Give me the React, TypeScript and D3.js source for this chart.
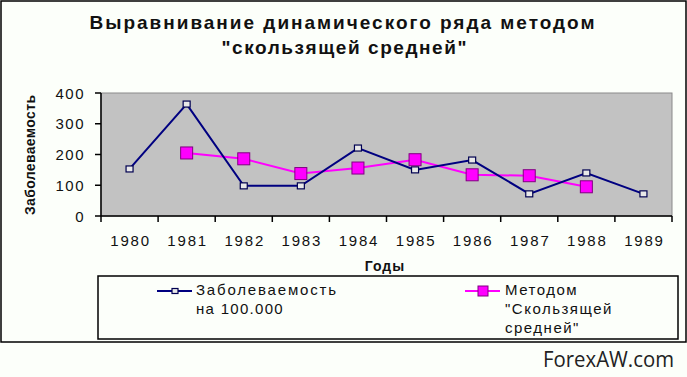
import React from "react";
import * as d3 from "d3";

const years = ["1980", "1981", "1982", "1983", "1984", "1985", "1986", "1987", "1988", "1989"];
const incidence = [153, 364, 98, 98, 221, 150, 182, 72, 140, 72];
const movingAvgYears = ["1981", "1982", "1983", "1984", "1985", "1986", "1987", "1988"];
const movingAvg = [205, 186, 138, 156, 183, 134, 131, 95];
const yTicks = [0, 100, 200, 300, 400];

const W = 687;
const H = 377;
const plot = { left: 101, right: 672, top: 93, bottom: 216 };
const font = "'Liberation Sans', Arial, sans-serif";

export default function App() {
  const x = d3.scaleBand<string>().domain(years).range([plot.left, plot.right]).paddingInner(0).paddingOuter(0);
  const y = d3.scaleLinear().domain([0, 400]).range([plot.bottom, plot.top]);
  const cx = (yr: string) => (x(yr) as number) + x.bandwidth() / 2;

  const line = d3.line<[number, number]>().x((d) => d[0]).y((d) => d[1]);
  const bluePts: [number, number][] = years.map((yr, i) => [cx(yr), y(incidence[i])]);
  const magPts: [number, number][] = movingAvgYears.map((yr, i) => [cx(yr), y(movingAvg[i])]);

  const tickXs = years.map((yr) => x(yr) as number).concat([plot.right]);

  return (
    <svg width={W} height={H} style={{ position: "absolute", left: 0, top: 0, display: "block" }}>
      <rect x={0} y={0} width={W} height={H} fill="#fcfffa" />
      <rect x={1} y={1} width={685} height={341} fill="none" stroke="#000" strokeWidth={1.5} />

      {/* Title */}
      <text x={342} y={29} textAnchor="middle" fontFamily={font} fontWeight="bold" fontSize={19}
        textLength={505} lengthAdjust="spacing" fill="#111">
        Выравнивание динамического ряда методом
      </text>
      <text x={344} y={54} textAnchor="middle" fontFamily={font} fontWeight="bold" fontSize={19}
        textLength={245} lengthAdjust="spacing" fill="#111">
        "скользящей средней"
      </text>

      {/* plot area */}
      <rect x={plot.left} y={plot.top} width={plot.right - plot.left} height={plot.bottom - plot.top}
        fill="#c2c2c2" stroke="#8a8a8a" strokeWidth={1} />

      {/* y axis */}
      <line x1={plot.left} x2={plot.left} y1={plot.top} y2={plot.bottom} stroke="#000" strokeWidth={1.5} />
      {yTicks.map((t) => (
        <g key={t}>
          <line x1={plot.left - 6} x2={plot.left} y1={y(t)} y2={y(t)} stroke="#000" strokeWidth={1.5} />
          <text x={85} y={y(t) + 5.5} textAnchor="end" fontFamily={font} fontSize={15} letterSpacing={1.5} fill="#111">
            {t}
          </text>
        </g>
      ))}

      {/* x axis */}
      <line x1={plot.left} x2={plot.right} y1={plot.bottom} y2={plot.bottom} stroke="#000" strokeWidth={1.5} />
      {tickXs.map((tx, i) => (
        <line key={i} x1={tx} x2={tx} y1={plot.bottom} y2={plot.bottom + 6} stroke="#000" strokeWidth={1.5} />
      ))}
      {years.map((yr) => (
        <text key={yr} x={cx(yr) + 1} y={246} textAnchor="middle" fontFamily={font} fontSize={15} letterSpacing={1.8} fill="#111">
          {yr}
        </text>
      ))}

      {/* axis titles */}
      <text x={0} y={0} transform="translate(35,155) rotate(-90)" textAnchor="middle" fontFamily={font}
        fontWeight="bold" fontSize={14} textLength={120} lengthAdjust="spacing" fill="#111">
        Заболеваемость
      </text>
      <text x={385} y={271} textAnchor="middle" fontFamily={font} fontWeight="bold" fontSize={14} letterSpacing={1} fill="#111">
        Годы
      </text>

      {/* series */}
      <path d={line(magPts) || ""} fill="none" stroke="#ff00ff" strokeWidth={2} />
      <path d={line(bluePts) || ""} fill="none" stroke="#000080" strokeWidth={2} />
      {bluePts.map((p, i) => (
        <rect key={"b" + i} x={p[0] - 3.5} y={p[1] - 3} width={7} height={6} fill="#e8e8e8" stroke="#000050" strokeWidth={1.2} />
      ))}
      {magPts.map((p, i) => (
        <rect key={"m" + i} x={p[0] - 6} y={p[1] - 6} width={12} height={12} fill="#ff00ff" stroke="#800080" strokeWidth={1} />
      ))}

      {/* legend */}
      <rect x={98} y={276} width={580} height={63} fill="none" stroke="#000" strokeWidth={1.5} />
      <line x1={157} x2={192} y1={291} y2={291} stroke="#000080" strokeWidth={2} />
      <rect x={172} y={288.5} width={6} height={5} fill="#e8e8e8" stroke="#000050" strokeWidth={1.2} />
      <text x={196} y={295} fontFamily={font} fontSize={15} textLength={140} lengthAdjust="spacing" fill="#111">Заболеваемость</text>
      <text x={196} y={314} fontFamily={font} fontSize={15} letterSpacing={1.3} fill="#111">на 100.000</text>

      <line x1={465} x2={500} y1={291} y2={291} stroke="#ff00ff" strokeWidth={2} />
      <rect x={478} y={286} width={10} height={10} fill="#ff00ff" stroke="#800080" strokeWidth={1} />
      <text x={505} y={295} fontFamily={font} fontSize={15} letterSpacing={1.5} fill="#111">Методом</text>
      <text x={505} y={314} fontFamily={font} fontSize={15} letterSpacing={1.5} fill="#111">"Скользящей</text>
      <text x={505} y={333} fontFamily={font} fontSize={15} letterSpacing={1.5} fill="#111">средней"</text>

      {/* watermark */}
      <text x={543} y={367} fontFamily="'Open Sans', 'Noto Sans', sans-serif" fontSize={21} textLength={131}
        lengthAdjust="spacingAndGlyphs" fill="#222">
        ForexAW.com
      </text>
    </svg>
  );
}
